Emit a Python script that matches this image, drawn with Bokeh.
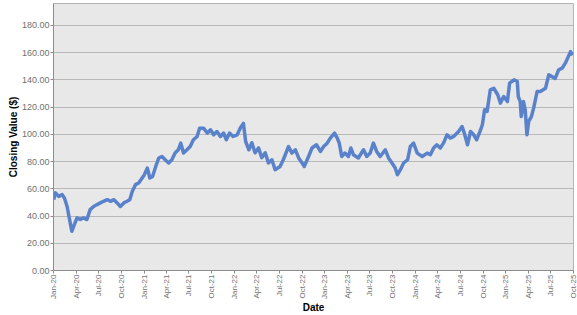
import math
import pandas as pd
from bokeh.plotting import figure
from bokeh.models import (FixedTicker, DatetimeTickFormatter, PrintfTickFormatter,
                          Range1d, ColumnDataSource)
from bokeh.embed import file_html
from bokeh.resources import INLINE

# ---- data ----
dates = [
    "2020-01-02", "2020-01-09", "2020-01-22", "2020-02-05", "2020-02-14", "2020-02-25",
    "2020-03-06", "2020-03-15", "2020-03-25", "2020-04-05", "2020-04-18", "2020-05-01",
    "2020-05-15", "2020-05-28", "2020-06-11", "2020-06-25", "2020-07-08", "2020-07-21",
    "2020-08-05", "2020-08-18", "2020-09-01", "2020-09-14", "2020-09-27", "2020-10-11",
    "2020-10-24", "2020-11-04", "2020-11-14", "2020-11-27", "2020-12-10", "2020-12-24",
    "2021-01-01", "2021-01-14", "2021-01-24", "2021-02-04", "2021-02-17", "2021-03-01",
    "2021-03-14", "2021-03-27", "2021-04-10", "2021-04-23", "2021-05-06", "2021-05-19",
    "2021-05-29", "2021-06-09", "2021-06-23", "2021-07-06", "2021-07-19", "2021-08-03",
    "2021-08-13", "2021-08-29", "2021-09-13", "2021-09-26", "2021-10-09", "2021-10-22",
    "2021-11-05", "2021-11-18", "2021-11-29", "2021-12-12", "2021-12-26",
    "2022-01-12", "2022-01-25", "2022-02-06", "2022-02-15", "2022-02-28", "2022-03-12",
    "2022-03-25", "2022-04-08", "2022-04-21", "2022-05-05", "2022-05-18", "2022-06-01",
    "2022-06-14", "2022-07-04", "2022-07-17", "2022-08-07", "2022-08-21", "2022-09-04",
    "2022-09-17", "2022-10-01", "2022-10-10", "2022-10-27", "2022-11-10", "2022-11-28",
    "2022-12-14", "2022-12-27",
    "2023-01-10", "2023-01-23", "2023-02-09", "2023-02-20", "2023-02-28", "2023-03-10",
    "2023-03-23", "2023-04-06", "2023-04-16", "2023-04-26", "2023-05-16", "2023-06-06",
    "2023-06-19", "2023-07-03", "2023-07-16", "2023-07-29", "2023-08-12", "2023-09-02",
    "2023-09-15", "2023-09-29", "2023-10-12", "2023-10-21", "2023-11-02", "2023-11-15",
    "2023-12-01", "2023-12-12", "2023-12-25",
    "2024-01-09", "2024-01-29", "2024-02-18", "2024-03-02", "2024-03-15", "2024-03-28",
    "2024-04-11", "2024-04-24", "2024-05-08", "2024-05-21", "2024-06-04", "2024-06-24",
    "2024-07-08", "2024-07-17", "2024-07-30", "2024-08-11", "2024-08-24", "2024-09-05",
    "2024-09-18", "2024-09-28", "2024-10-07", "2024-10-17", "2024-10-30", "2024-11-13",
    "2024-11-29", "2024-12-10", "2024-12-23",
    "2025-01-07", "2025-01-16", "2025-02-03", "2025-02-16", "2025-02-20", "2025-02-28",
    "2025-03-04", "2025-03-13", "2025-03-20", "2025-03-27", "2025-04-03", "2025-04-14",
    "2025-04-23", "2025-05-07", "2025-05-20", "2025-06-10", "2025-06-23", "2025-07-06",
    "2025-07-19", "2025-08-02", "2025-08-16", "2025-08-29", "2025-09-10", "2025-09-19",
    "2025-09-28",
]
closing = [
    52.0, 57.0, 54.4, 55.7, 53.2, 47.0,
    37.4, 28.8, 33.7, 38.6, 37.4, 38.6,
    37.4, 44.7, 47.0, 48.4, 49.6, 50.8,
    52.0, 50.8, 52.0, 49.6, 47.0, 49.6,
    50.8, 52.0, 58.0, 63.0, 64.2, 67.9,
    70.0, 75.2, 67.9, 69.0, 76.4, 82.6,
    83.7, 81.3, 78.9, 81.3, 86.2, 88.6,
    93.5, 86.2, 88.6, 91.0, 96.0, 98.4,
    104.5, 104.5, 100.9, 103.3, 99.6, 102.0,
    98.4, 100.9, 96.0, 100.9, 98.4,
    99.6, 104.8, 108.0, 94.7, 88.6, 93.8,
    86.4, 90.0, 82.8, 86.4, 79.0, 81.3,
    74.0, 76.4, 81.3, 91.0, 86.2, 88.6,
    82.6, 78.9, 76.4, 83.7, 89.9, 92.3,
    87.4, 91.0,
    93.5, 97.2, 100.9, 97.2, 93.5, 83.7,
    86.2, 83.7, 89.9, 85.0, 82.6, 88.6,
    83.7, 86.2, 93.5, 87.4, 83.7, 88.6,
    82.6, 78.9, 75.2, 70.3, 74.0, 78.9,
    81.3, 91.0, 93.5,
    86.2, 83.7, 86.2, 85.0, 89.9, 92.3,
    89.9, 93.5, 99.6, 97.2, 98.4, 102.0,
    105.7, 100.9, 92.3, 102.0, 99.6, 96.0,
    102.0, 107.0, 118.0, 116.7, 132.6, 133.8,
    129.0, 122.9, 127.7,
    124.0, 137.5, 140.0, 138.7, 127.7, 124.0,
    113.0, 124.0, 118.0, 99.6, 109.4, 113.0,
    119.2, 131.4, 131.4, 133.8, 143.6, 142.3,
    141.0, 147.3, 148.5, 152.2, 157.0, 160.7,
    158.2,
]
tick_months = pd.date_range("2020-01-01", "2025-10-01", freq="3MS")
y_ticks = [0, 20, 40, 60, 80, 100, 120, 140, 160, 180]

src = ColumnDataSource(dict(x=pd.to_datetime(dates), y=closing))

p = figure(width=577, height=315, x_axis_type="datetime",
           output_backend="svg", toolbar_location=None,
           x_range=Range1d(pd.Timestamp("2020-01-01"), pd.Timestamp("2025-10-01")),
           y_range=Range1d(0, 196),
           min_border_left=53, min_border_right=4, min_border_top=3, min_border_bottom=44)

p.background_fill_color = "#e8e8e8"
p.border_fill_color = "white"
p.outline_line_color = "#b4b4b4"
p.outline_line_width = 1

p.line("x", "y", source=src, line_color="#5a82cb", line_width=3.5, line_join="round")

ms = [t.value / 1e6 for t in tick_months]
p.xaxis.ticker = FixedTicker(ticks=ms)
p.xaxis.formatter = DatetimeTickFormatter(months="%b-%y", days="%b-%y", years="%b-%y")
p.xaxis.major_label_orientation = math.pi / 2
p.yaxis.ticker = FixedTicker(ticks=y_ticks)
p.yaxis.formatter = PrintfTickFormatter(format="%.2f")

for ax in (p.xaxis[0], p.yaxis[0]):
    ax.axis_line_color = "#8c8c8c"
    ax.major_tick_line_color = "#8c8c8c"
    ax.major_tick_out = 3
    ax.major_tick_in = 0
    ax.minor_tick_line_color = None
    ax.major_label_text_font = "Liberation Sans"
    ax.major_label_text_color = "#707070"
    ax.axis_label_text_font = "Liberation Sans"
    ax.axis_label_text_font_style = "bold"
    ax.axis_label_text_font_size = "10px"
    ax.axis_label_text_color = "#000000"

p.xaxis.major_label_text_font_size = "8px"
p.yaxis.major_label_text_font_size = "9px"
p.xaxis.major_label_standoff = 1
p.yaxis.major_label_standoff = 1
p.xaxis.axis_label = "Date"
p.yaxis.axis_label = "Closing Value ($)"
p.xaxis.axis_label_standoff = 0
p.yaxis.axis_label_standoff = 0

p.xgrid.grid_line_color = None
p.ygrid.grid_line_color = "#b8b8b8"
p.ygrid.grid_line_width = 1

open("out.html", "w").write(file_html(p, INLINE))
